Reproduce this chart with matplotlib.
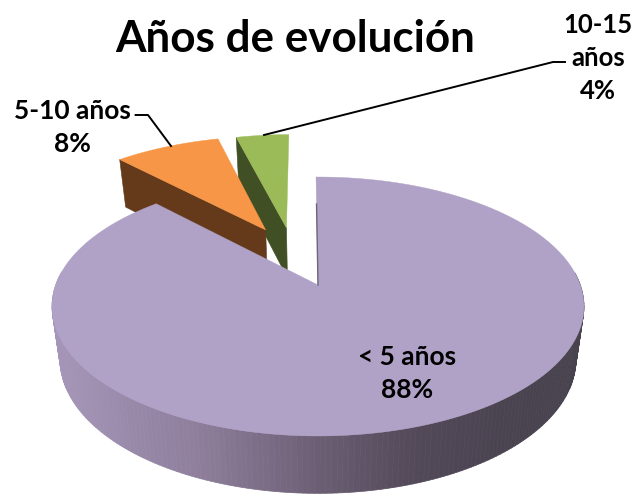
import numpy as np
import matplotlib
matplotlib.use("Agg")
import matplotlib.pyplot as plt
from matplotlib.collections import PolyCollection
from matplotlib.colors import LinearSegmentedColormap
from matplotlib.patches import Polygon

labels = ["< 5 años", "5-10 años", "10-15 años"]
shares = [88, 8, 4]
title = "Años de evolución"

top_colors = ["#b0a1c6", "#f79646", "#9bbb59"]
cut_colors = ["#6f6579", "#653a1a", "#414f25"]
# explode offsets in pie-radius units (right, back)
explode = [(0.0, 0.0), (-0.215, 0.471), (-0.13, 0.49)]
first_angle = -0.5

# projection of the tilted pie onto pixels
CX, CY = 318.0, 285.0
PERSP = 0.166
TOP_W, TOP_H = 262.3, 125.9
BOT_W, BOT_H = 254.4, 130.4
BOT_Y = 337.0

wall_cmap = LinearSegmentedColormap.from_list(
    "wall",
    [(0.0, "#a595b8"), (0.27, "#8f7f9d"), (0.48, "#6f6278"),
     (0.68, "#544a5a"), (0.85, "#4a4350"), (1.0, "#48424e")],
)


def project(u, v, bottom=False):
    d = 1 + PERSP * v
    if bottom:
        return CX + BOT_W * u / d, BOT_Y - BOT_H * v / d
    return CX + TOP_W * u / d, CY - TOP_H * v / d


def slice_points(a0, a1, off, bottom=False, n=300):
    a = np.radians(np.linspace(a0, a1, n))
    u = np.sin(a) + off[0]
    v = np.cos(a) + off[1]
    return np.column_stack(project(u, v, bottom))


def draw_slice(ax, a0, a1, off, top_color, cut_color, zorder, shaded_wall=False):
    rim = slice_points(a0, a1, off)
    apex = np.array(project(off[0], off[1]))
    rim_b = slice_points(a0, a1, off, bottom=True)
    apex_b = np.array(project(off[0], off[1], bottom=True))
    if shaded_wall:
        # only the front half of the outer wall can be seen
        angles = np.linspace(a0, a1, len(rim))
        quads = [[rim[i], rim[i + 1], rim_b[i + 1], rim_b[i]]
                 for i in range(len(rim) - 1) if np.cos(np.radians(angles[i])) < 0.1]
        xs = np.array([q[0][0] for q in quads])
        cols = wall_cmap((xs - 52) / (585 - 52))
        ax.add_collection(PolyCollection(quads, facecolors=cols, edgecolors=cols,
                                         linewidths=0.5, zorder=zorder))
        # thin sliver of the cut face along the first edge
        start = rim[0] + 0.25 * (apex - rim[0])
        ax.plot([start[0], apex[0]], [start[1], apex[1]], color=cut_color, lw=1.0,
                zorder=zorder + 2)
    else:
        # radial cut face on the leading edge, seen from the front
        ax.add_patch(Polygon([rim[0], apex, apex_b, rim_b[0]], closed=True, fc=cut_color,
                             ec=cut_color, lw=0.4, zorder=zorder))
    ax.add_patch(Polygon(np.vstack([apex, rim]), closed=True, fc=top_color, ec=top_color,
                         lw=0.3, zorder=zorder + 1))


fig = plt.figure(figsize=(6.33, 4.94), dpi=100)
ax = fig.add_axes([0, 0, 1, 1])
ax.set_xlim(0, 633)
ax.set_ylim(494, 0)
ax.axis("off")

plt.rcParams["font.family"] = ["Lato", "DejaVu Sans"]

angle = first_angle
spans = []
for s in shares:
    spans.append((angle, angle + s / sum(shares) * 360))
    angle = spans[-1][1]

# small exploded slices go behind the big one
draw_slice(ax, spans[2][0], spans[2][1], explode[2], top_colors[2], cut_colors[2], 2)
draw_slice(ax, spans[1][0], spans[1][1], explode[1], top_colors[1], cut_colors[1], 4)
draw_slice(ax, spans[0][0], spans[0][1], explode[0], top_colors[0], cut_colors[0], 6, shaded_wall=True)

ax.text(295, 39, title, ha="center", va="center", fontsize=31.7, fontweight="bold", color="black")
ax.text(407, 373, f"{labels[0]}\n{shares[0]}%", ha="center", va="center", fontsize=19,
        fontweight="bold", linespacing=1.45, zorder=10)
ax.text(72, 127, f"{labels[1]}\n{shares[1]}%", ha="center", va="center", fontsize=19,
        fontweight="bold", linespacing=1.45, zorder=10)
ax.text(598, 58, f"10-15\naños\n{shares[2]}%", ha="center", va="center", fontsize=18.5,
        fontweight="bold", linespacing=1.45, zorder=10)

# leader lines
ax.plot([135.6, 148, 171], [115, 115, 146], color="black", lw=1.4, zorder=9)
ax.plot([264, 553, 565], [135, 62, 62], color="black", lw=1.4, zorder=9)

fig.savefig("out.png", dpi=100)
